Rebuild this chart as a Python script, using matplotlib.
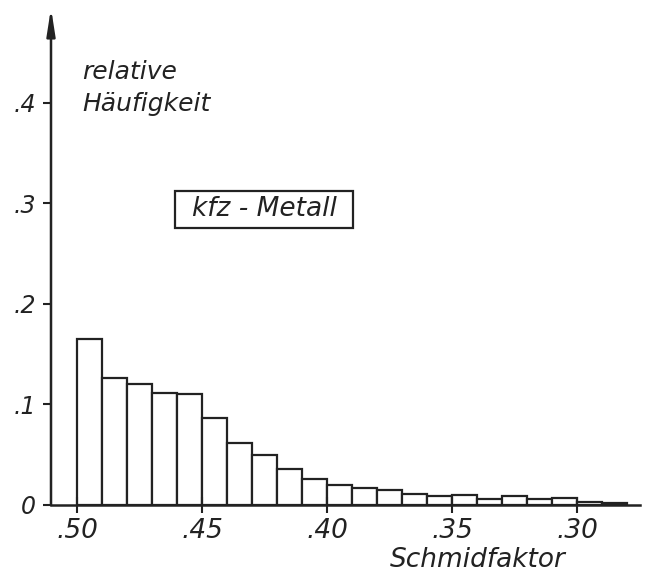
import matplotlib
matplotlib.use("Agg")
import matplotlib.pyplot as plt
from matplotlib.patches import Rectangle

# Data
bin_left = [0.50, 0.49, 0.48, 0.47, 0.46, 0.45, 0.44, 0.43, 0.42, 0.41, 0.40,
            0.39, 0.38, 0.37, 0.36, 0.35, 0.34, 0.33, 0.32, 0.31, 0.30, 0.29]
freq = [0.165, 0.126, 0.120, 0.111, 0.110, 0.086, 0.062, 0.050, 0.036, 0.026, 0.020,
        0.017, 0.015, 0.011, 0.0085, 0.010, 0.006, 0.009, 0.0057, 0.0073, 0.003, 0.0017]
bin_width = 0.01
xticks = [0.50, 0.45, 0.40, 0.35, 0.30]
xticklabels = [".50", ".45", ".40", ".35", ".30"]
yticks = [0, 0.1, 0.2, 0.3, 0.4]
yticklabels = ["0", ".1", ".2", ".3", ".4"]

plt.rcParams['font.family'] = ['DejaVu Sans']
ink = '#222222'

fig = plt.figure(figsize=(6.52, 5.79), dpi=100)
ax = fig.add_axes([51/652, 1-505/579, (640-51)/652, (505-8)/579])

ax.bar(bin_left, freq, width=-bin_width, align='edge', facecolor='white',
       edgecolor=ink, linewidth=1.6)

ax.set_xlim(0.5104, 0.2748)
ax.set_ylim(0, 0.494)

for s in ['top', 'right', 'left']:
    ax.spines[s].set_visible(False)
ax.spines['bottom'].set_linewidth(1.8)
ax.spines['bottom'].set_color(ink)

# y axis with arrow
ax.annotate('', xy=(0, 1.0), xycoords='axes fraction', xytext=(0, 0),
            textcoords='axes fraction',
            arrowprops=dict(arrowstyle='-|>,head_length=1.6,head_width=0.25',
                            color=ink, lw=1.8, shrinkA=0, shrinkB=0))

ax.set_xticks(xticks)
ax.set_xticklabels(xticklabels, fontsize=19, style='italic', color=ink)
ax.set_yticks(yticks)
ax.set_yticklabels(yticklabels, fontsize=17, style='italic', color=ink)
ax.tick_params(axis='x', direction='inout', length=12, width=1.5, color=ink, pad=3)
ax.tick_params(axis='y', direction='out', length=6, width=1.5, color=ink, pad=5)

fig.text(82/652, 1-88/579, "relative\nHäufigkeit",
         fontsize=18, style='italic', color=ink, va='center', ha='left',
         linespacing=1.45)

# boxed label
fig.patches.append(Rectangle((175/652, 1-228/579), (353-175)/652, (228-191)/579,
                             transform=fig.transFigure, facecolor='none',
                             edgecolor=ink, linewidth=1.6))
fig.text(264/652, 1-209/579, "kfz - Metall", fontsize=19, style='italic',
         color=ink, ha='center', va='center')

fig.text(478/652, 1-560/579, "Schmidfaktor", fontsize=19, style='italic',
         color=ink, ha='center', va='center')

fig.savefig("out.png", dpi=100, facecolor='white')
